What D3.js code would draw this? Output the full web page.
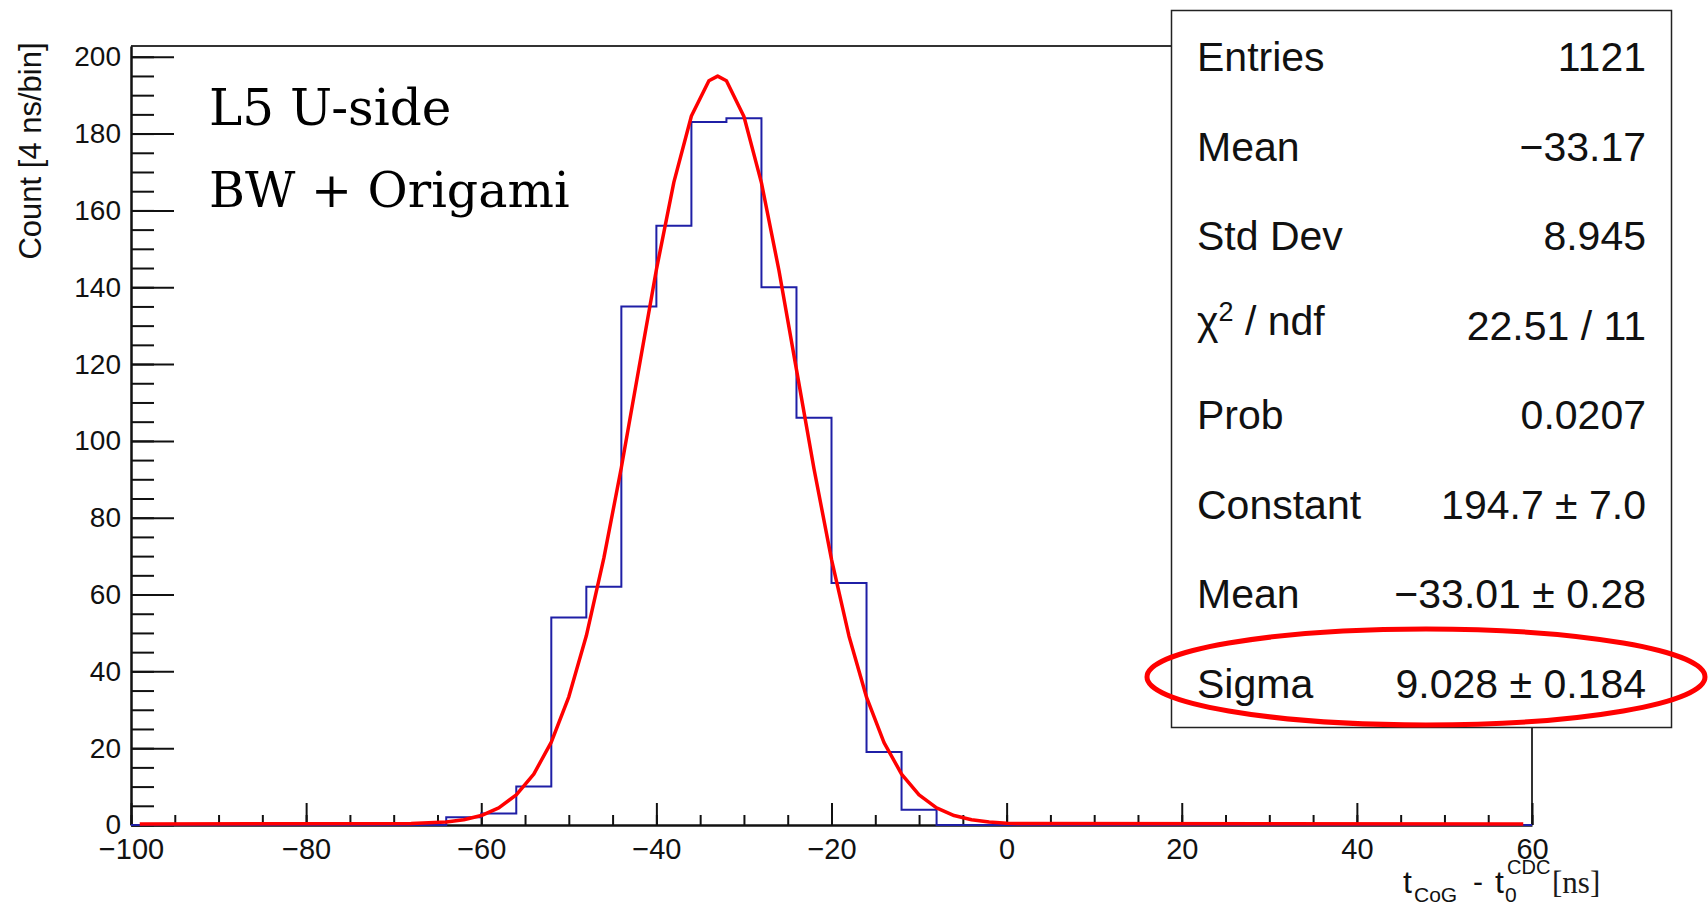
<!DOCTYPE html>
<html lang="en">
<head>
    <meta charset="UTF-8">
    <title>t_CoG - t0 CDC</title>
    <script src="https://d3js.org/d3.v7.min.js"></script>
    <style>
        body { margin: 0; background: #fff; }
        svg { display: block; }
        .tick text { font-family: "Liberation Sans", Arial, sans-serif; font-size: 28px; fill: #111; }
    </style>
</head>
<body>
    <div id="my_dataviz"></div>
</body>
</html>
<script>

    // histogram bins (4 ns wide), low edges and counts
    const binLow = [-64, -60, -56, -52, -48, -44, -40, -36, -32, -28, -24, -20, -16, -12];
    const counts = [2, 3, 10, 54, 62, 135, 156, 183, 184, 140, 106, 63, 19, 4];
    const binWidth = 4;

    // red fit curve
    const fitX = [-99, -68, -66, -64, -62, -60, -58, -56, -54, -52,
                  -50, -48, -46, -44, -42, -40, -38, -36, -34, -33,
                  -32, -30, -28, -26, -24, -22, -20, -18, -16, -14,
                  -12, -10, -8, -6, -4, -2, 0, 2, 59];
    const fitY = [0, 0.1, 0.3, 0.5, 1.1, 2.2, 4.2, 7.6, 13.0, 21.3,
                  33.1, 49.0, 69.2, 92.8, 118.6, 144.3, 167.1, 184.3, 193.5, 194.7,
                  193.5, 184.2, 166.9, 144.1, 118.3, 92.5, 68.9, 48.9, 33.0, 21.2,
                  13.0, 7.6, 4.2, 2.2, 1.1, 0.5, 0.2, 0.1, 0];

    // axis ticks
    const xTicks = [-100, -80, -60, -40, -20, 0, 20, 40, 60];
    const yTicks = [0, 20, 40, 60, 80, 100, 120, 140, 160, 180, 200];

    // stats box
    const statLabels = ["Entries", "Mean", "Std Dev", "chi", "Prob", "Constant", "Mean", "Sigma"];
    const statValues = ["1121", "\u221233.17", "8.945", "22.51 / 11", "0.0207",
                        "194.7 \u00b1 7.0", "\u221233.01 \u00b1 0.28", "9.028 \u00b1 0.184"];

    const W = 1708, H = 906;
    const sans = "'Liberation Sans', Arial, sans-serif";
    const serif = "'DejaVu Serif', 'Liberation Serif', serif";

    const svg = d3.select("#my_dataviz")
      .append("svg")
        .attr("width", W)
        .attr("height", H);

    const x = d3.scaleLinear().domain([-100, 60]).range([131, 1532]);
    const y = d3.scaleLinear().domain([0, 202.8]).range([825, 46]);

    const minus = s => String(s).replace("-", "\u2212");

    // frame (top and right)
    svg.append("path")
        .attr("d", `M${x(-100)},${y(202.8)}H${x(60)}V${y(0)}`)
        .attr("fill", "none")
        .attr("stroke", "#333")
        .attr("stroke-width", 2);

    // minor ticks
    svg.append("g")
        .attr("transform", `translate(0,${y(0)})`)
        .call(d3.axisBottom(x).tickValues(d3.range(-100, 61, 5)).tickSize(-10).tickFormat(""))
        .call(g => g.select(".domain").remove());
    svg.append("g")
        .attr("transform", `translate(${x(-100)},0)`)
        .call(d3.axisLeft(y).tickValues(d3.range(0, 201, 5)).tickSize(-23).tickFormat(""))
        .call(g => g.select(".domain").remove());

    // major ticks + labels
    svg.append("g")
        .attr("transform", `translate(0,${y(0)})`)
        .call(d3.axisBottom(x).tickValues(xTicks).tickSizeInner(-22).tickSizeOuter(0)
            .tickPadding(13).tickFormat(minus))
        .call(g => g.selectAll("text").style("font-size", "29px"));
    svg.append("g")
        .attr("transform", `translate(${x(-100)},0)`)
        .call(d3.axisLeft(y).tickValues(yTicks).tickSizeInner(-43).tickSizeOuter(0)
            .tickPadding(10).tickFormat(d => d));

    svg.selectAll(".tick line").attr("stroke", "#111").attr("stroke-width", 2);
    svg.selectAll(".domain").attr("stroke", "#111").attr("stroke-width", 2.5);

    // histogram outline (step line, no inner bin walls)
    const steps = [[-100, 0], [binLow[0], 0]];
    binLow.forEach((b, i) => {
        steps.push([b, counts[i]], [b + binWidth, counts[i]]);
    });
    steps.push([binLow[binLow.length - 1] + binWidth, 0], [60, 0]);
    svg.append("path")
        .datum(steps)
        .attr("fill", "none")
        .attr("stroke", "#1f1fa6")
        .attr("stroke-width", 2)
        .attr("d", d3.line().x(d => x(d[0])).y(d => y(d[1])));

    // fit curve
    svg.append("path")
        .datum(fitX.map((v, i) => [v, fitY[i]]))
        .attr("fill", "none")
        .attr("stroke", "#ff0000")
        .attr("stroke-width", 3.5)
        .attr("stroke-linejoin", "round")
        .attr("d", d3.line().x(d => x(d[0])).y(d => y(d[1]) - 1));

    // axis titles
    svg.append("text")
        .attr("transform", "translate(41,151) rotate(-90)")
        .attr("text-anchor", "middle")
        .style("font-family", sans)
        .style("font-size", "31px")
        .attr("fill", "#111")
        .text("Count [4 ns/bin]");

    const xt = svg.append("g").style("font-family", sans).attr("fill", "#111");
    xt.append("text").attr("x", 1403).attr("y", 893).style("font-size", "32px").text("t");
    xt.append("text").attr("x", 1414).attr("y", 902).style("font-size", "21px").text("CoG");
    xt.append("text").attr("x", 1473).attr("y", 892).style("font-size", "30px").text("-");
    xt.append("text").attr("x", 1495).attr("y", 893).style("font-size", "32px").text("t");
    xt.append("text").attr("x", 1505).attr("y", 902).style("font-size", "21px").text("0");
    xt.append("text").attr("x", 1507).attr("y", 874).style("font-size", "20px").text("CDC");
    svg.append("text")
        .attr("x", 1552).attr("y", 893)
        .style("font-family", "'Liberation Serif', serif")
        .style("font-size", "31px")
        .attr("fill", "#1a1a1a")
        .text("[ns]");

    // labels in the pad
    svg.append("text").attr("x", 209).attr("y", 125)
        .style("font-family", serif).style("font-size", "50px").attr("fill", "#000")
        .text("L5 U-side");
    svg.append("text").attr("x", 209).attr("y", 207)
        .style("font-family", serif).style("font-size", "49px").attr("fill", "#000")
        .text("BW + Origami");

    // stats box
    svg.append("rect")
        .attr("x", 1171.5).attr("y", 10.5)
        .attr("width", 500).attr("height", 717)
        .attr("fill", "#fff")
        .attr("stroke", "#222")
        .attr("stroke-width", 1.5);

    const rowY = i => 71 + i * 89.5;
    const stats = svg.append("g")
        .style("font-family", sans)
        .style("font-size", "41px")
        .attr("fill", "#111");

    statLabels.forEach((lab, i) => {
        const t = stats.append("text").attr("x", 1197).attr("y", rowY(i));
        if (lab === "chi") {
            t.attr("y", rowY(i) - 5);
            t.append("tspan").text("\u03c7");
            t.append("tspan").attr("dy", -14).style("font-size", "27px").text("2");
            t.append("tspan").attr("dy", 14).text(" / ndf");
        } else {
            t.text(lab);
        }
        stats.append("text")
            .attr("x", 1646).attr("y", rowY(i))
            .attr("text-anchor", "end")
            .text(statValues[i]);
    });

    // highlight around Sigma row
    svg.append("ellipse")
        .attr("cx", 1426).attr("cy", 677)
        .attr("rx", 279).attr("ry", 48)
        .attr("fill", "none")
        .attr("stroke", "#ff0000")
        .attr("stroke-width", 5);

</script>
